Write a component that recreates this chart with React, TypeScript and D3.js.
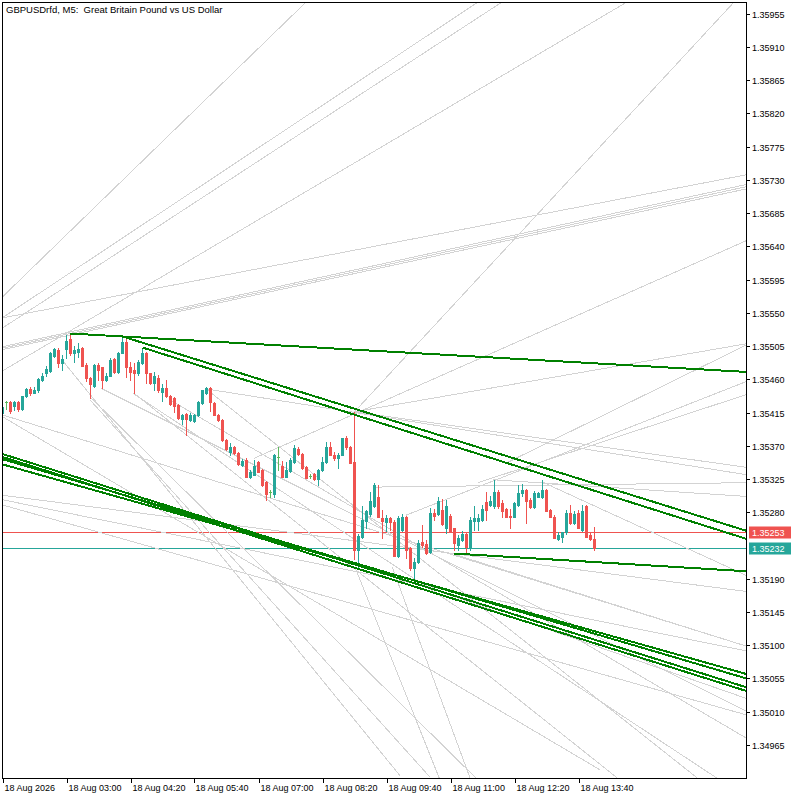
import React from "react";
import * as d3 from "d3";

const W = 800;
const H = 800;
const PL = 2, PR = 746, PT = 2, PB = 778;

const title = "GBPUSDrfd, M5:  Great Britain Pound vs US Dollar";

const open = [
1.35415,1.35429,1.35429,1.35424,1.35429,1.35420,1.35437,1.35447,1.35442,1.35445,
1.35459,1.35468,1.35471,1.35492,1.35500,1.35482,1.35501,1.35514,1.35495,1.35497,
1.35503,1.35480,1.35462,1.35451,1.35480,1.35476,1.35459,1.35465,1.35488,1.35470,
1.35496,1.35511,1.35476,1.35473,1.35468,1.35482,1.35496,1.35468,1.35455,1.35462,
1.35443,1.35448,1.35437,1.35435,1.35425,1.35406,1.35413,1.35405,1.35403,1.35411,
1.35428,1.35442,1.35448,1.35428,1.35412,1.35405,1.35378,1.35362,1.35368,1.35360,
1.35344,1.35351,1.35328,1.35331,1.35348,1.35337,1.35321,1.35307,1.35304,1.35355,
1.35343,1.35328,1.35336,1.35348,1.35366,1.35359,1.35341,1.35329,1.35332,1.35325,
1.35337,1.35348,1.35368,1.35358,1.35353,1.35358,1.35380,1.35368,1.35348,1.35229,
1.35247,1.35268,1.35277,1.35288,1.35301,1.35272,1.35267,1.35272,1.35267,1.35220,
1.35256,1.35273,1.35232,1.35204,1.35212,1.35240,1.35237,1.35226,1.35279,1.35277,
1.35283,1.35258,1.35275,1.35258,1.35236,1.35243,1.35251,1.35231,1.35268,1.35268,
1.35270,1.35294,1.35290,1.35288,1.35308,1.35292,1.35284,1.35275,1.35274,1.35290,
1.35306,1.35310,1.35297,1.35287,1.35301,1.35301,1.35310,1.35283,1.35274,1.35244,
1.35247,1.35253,1.35279,1.35266,1.35279,1.35256,1.35288,1.35249,1.35244
];
const high = [
1.35425,1.35431,1.35430,1.35430,1.35430,1.35438,1.35448,1.35450,1.35450,1.35462,
1.35469,1.35478,1.35497,1.35503,1.35503,1.35493,1.35520,1.35522,1.35505,1.35509,
1.35504,1.35482,1.35463,1.35481,1.35482,1.35477,1.35469,1.35489,1.35489,1.35497,
1.35518,1.35518,1.35484,1.35482,1.35486,1.35503,1.35497,1.35469,1.35470,1.35466,
1.35453,1.35459,1.35439,1.35436,1.35427,1.35413,1.35415,1.35415,1.35413,1.35431,
1.35446,1.35449,1.35449,1.35429,1.35413,1.35406,1.35379,1.35374,1.35370,1.35361,
1.35352,1.35353,1.35337,1.35351,1.35350,1.35338,1.35322,1.35310,1.35359,1.35368,
1.35349,1.35348,1.35354,1.35371,1.35368,1.35360,1.35342,1.35332,1.35333,1.35338,
1.35355,1.35375,1.35375,1.35361,1.35360,1.35381,1.35383,1.35369,1.35416,1.35250,
1.35288,1.35283,1.35308,1.35320,1.35317,1.35283,1.35276,1.35274,1.35270,1.35275,
1.35277,1.35275,1.35233,1.35218,1.35243,1.35262,1.35243,1.35286,1.35285,1.35300,
1.35298,1.35297,1.35277,1.35259,1.35249,1.35254,1.35252,1.35273,1.35288,1.35277,
1.35290,1.35308,1.35302,1.35324,1.35310,1.35297,1.35286,1.35284,1.35294,1.35317,
1.35318,1.35312,1.35299,1.35309,1.35308,1.35324,1.35312,1.35285,1.35276,1.35253,
1.35253,1.35283,1.35290,1.35281,1.35283,1.35290,1.35290,1.35253,1.35260
];
const low = [
1.35413,1.35420,1.35415,1.35419,1.35417,1.35419,1.35436,1.35439,1.35441,1.35443,
1.35458,1.35465,1.35470,1.35490,1.35477,1.35473,1.35489,1.35493,1.35484,1.35490,
1.35478,1.35458,1.35434,1.35450,1.35459,1.35448,1.35458,1.35464,1.35469,1.35469,
1.35495,1.35463,1.35459,1.35442,1.35466,1.35481,1.35455,1.35454,1.35445,1.35443,
1.35430,1.35436,1.35425,1.35416,1.35406,1.35400,1.35385,1.35403,1.35402,1.35410,
1.35427,1.35440,1.35417,1.35411,1.35404,1.35377,1.35364,1.35358,1.35359,1.35344,
1.35343,1.35327,1.35326,1.35330,1.35334,1.35316,1.35297,1.35300,1.35300,1.35337,
1.35327,1.35327,1.35335,1.35346,1.35357,1.35339,1.35326,1.35326,1.35324,1.35317,
1.35336,1.35347,1.35357,1.35351,1.35340,1.35357,1.35365,1.35346,1.35216,1.35205,
1.35245,1.35258,1.35275,1.35287,1.35273,1.35245,1.35255,1.35256,1.35220,1.35219,
1.35255,1.35218,1.35202,1.35186,1.35211,1.35233,1.35224,1.35225,1.35270,1.35276,
1.35263,1.35252,1.35254,1.35229,1.35229,1.35241,1.35226,1.35229,1.35256,1.35256,
1.35268,1.35270,1.35288,1.35286,1.35286,1.35274,1.35273,1.35258,1.35273,1.35289,
1.35302,1.35265,1.35286,1.35286,1.35300,1.35299,1.35281,1.35273,1.35245,1.35242,
1.35239,1.35251,1.35264,1.35264,1.35258,1.35254,1.35246,1.35243,1.35229
];
const close = [
1.35423,1.35429,1.35417,1.35429,1.35420,1.35437,1.35447,1.35442,1.35446,1.35461,
1.35465,1.35474,1.35496,1.35501,1.35482,1.35488,1.35512,1.35496,1.35499,1.35501,
1.35478,1.35462,1.35453,1.35480,1.35473,1.35459,1.35465,1.35486,1.35470,1.35495,
1.35511,1.35477,1.35470,1.35468,1.35484,1.35495,1.35469,1.35455,1.35465,1.35445,
1.35448,1.35437,1.35427,1.35424,1.35408,1.35412,1.35406,1.35412,1.35411,1.35429,
1.35445,1.35448,1.35429,1.35412,1.35405,1.35378,1.35365,1.35368,1.35360,1.35345,
1.35350,1.35328,1.35335,1.35342,1.35335,1.35317,1.35304,1.35307,1.35358,1.35355,
1.35328,1.35337,1.35351,1.35367,1.35359,1.35340,1.35326,1.35329,1.35325,1.35337,
1.35348,1.35368,1.35358,1.35353,1.35358,1.35380,1.35368,1.35347,1.35229,1.35248,
1.35269,1.35281,1.35295,1.35317,1.35274,1.35268,1.35272,1.35267,1.35220,1.35272,
1.35273,1.35229,1.35205,1.35212,1.35238,1.35236,1.35225,1.35279,1.35275,1.35295,
1.35264,1.35288,1.35254,1.35238,1.35245,1.35251,1.35233,1.35269,1.35272,1.35272,
1.35284,1.35283,1.35295,1.35308,1.35288,1.35281,1.35274,1.35274,1.35292,1.35306,
1.35310,1.35295,1.35287,1.35306,1.35306,1.35310,1.35281,1.35274,1.35245,1.35249,
1.35253,1.35279,1.35266,1.35277,1.35259,1.35281,1.35247,1.35244,1.35232
];

const priceTicks = [
1.35955,1.35910,1.35865,1.35820,1.35775,1.35730,1.35685,1.35640,1.35595,1.35550,
1.35505,1.35460,1.35415,1.35370,1.35325,1.35280,1.35190,1.35145,1.35100,1.35055,
1.35010,1.34965
];

const timeTickBars = [0, 16, 32, 48, 64, 80, 96, 112, 128, 144];
const timeTickLabels = [
"18 Aug 2026","18 Aug 03:00","18 Aug 04:20","18 Aug 05:40","18 Aug 07:00",
"18 Aug 08:20","18 Aug 09:40","18 Aug 11:00","18 Aug 12:20","18 Aug 13:40"
];

const askPrice = 1.35253;
const bidPrice = 1.35232;

// trend lines: [bar1, price1, bar2, price2]
const greenLines: number[][] = [
[17, 1.35522, 185.875, 1.35470],
[30, 1.35518, 185.875, 1.35255],
[35, 1.35503, 185.875, 1.35244],
[113, 1.35224, 185.875, 1.35200],
[-0.125, 1.35359, 185.875, 1.35043],
[-0.125, 1.35355, 185.875, 1.35038],
[-0.125, 1.35352, 185.875, 1.35055],
[-0.125, 1.35345, 185.875, 1.35061],
];

const greyLines: number[][] = [
[-0.125,1.35571,75.9,1.35971],
[-0.125,1.35543,118.9,1.35971],
[-0.125,1.35529,124.9,1.35971],
[-0.125,1.35504,186.9,1.35725],
[-0.125,1.35502,186.9,1.35722],
[-0.125,1.35500,186.9,1.35719],
[-0.125,1.35471,156.1,1.35971],
[-0.125,1.35543,186.9,1.35738],
[88,1.35416,182.9,1.35971],
[62.9,1.35353,186.9,1.35650],
[88,1.35416,186.9,1.35509],
[100.9,1.35276,186.9,1.35459],
[50.9,1.35447,186.9,1.35330],
[93.1,1.35314,186.9,1.35320],
[88,1.35416,186.9,1.35340],
[122.6,1.35324,186.9,1.35301],
[118.9,1.35320,186.9,1.35441],
[126.1,1.35347,186.9,1.35509],
[-0.125,1.35412,186.9,1.35097],
[-0.125,1.35303,186.9,1.35172],
[-0.125,1.35297,186.9,1.35091],
[-0.125,1.35290,186.9,1.35004],
[22.1,1.35435,118.9,1.34917],
[14.9,1.35486,99.4,1.34923],
[32.9,1.35441,154.4,1.34917],
[97.4,1.35206,117.1,1.34917],
[88.1,1.35206,109.4,1.34917],
[112.9,1.35223,186.9,1.35097],
[102.6,1.35185,186.9,1.35026],
[50.9,1.35447,174.4,1.34917],
[41.9,1.35432,186.9,1.34971],
[21.9,1.35432,106.9,1.34921],
[24.6,1.35448,186.9,1.35008],
[32.6,1.35441,179.4,1.34917],
[0.1,1.35409,149.4,1.34931],
[134.9,1.35321,186.9,1.35192],
];

const BULL = "#26a69a";
const BEAR = "#ef5350";
const DOJI = "#5cb85c";
const GREY = "#d3d3d3";
const GREEN = "#008000";
const FONT = "'Liberation Sans', Arial, sans-serif";

export default function App() {
  const x = d3.scaleLinear().domain([-0.125, 185.875]).range([PL, PR]);
  const y = d3.scaleLinear().domain([1.3492, 1.35971]).range([PB, PT]);
  const fmt = d3.format(".5f");

  const candles = open.map((o, i) => {
    const c = close[i];
    const cx = x(i);
    const col = c > o ? BULL : c < o ? BEAR : DOJI;
    const yTop = Math.round(y(Math.max(o, c)));
    const yBot = Math.round(y(Math.min(o, c)));
    const yH = Math.round(y(high[i]));
    const yL = Math.round(y(low[i]));
    return (
      <g key={i}>
        <rect x={cx - 0.5} y={yH} width={1} height={Math.max(1, yL - yH + 1)} fill={col} />
        <rect x={cx - 1.5} y={yTop} width={3} height={Math.max(1, yBot - yTop + 1)} fill={col} />
      </g>
    );
  });

  const line = (l: number[], k: number, color: string, w: number) => (
    <line key={k} x1={x(l[0])} y1={y(l[1])} x2={x(l[2])} y2={y(l[3])}
      stroke={color} strokeWidth={w} shapeRendering="crispEdges" />
  );

  const yAsk = Math.round(y(askPrice)) + 0.5;
  const yBid = Math.round(y(bidPrice)) + 0.5;

  return (
    <div style={{ position: "absolute", left: 0, top: 0 }}>
      <svg width={W} height={H} style={{ display: "block", background: "#fff" }}>
        <defs>
          <clipPath id="plot">
            <rect x={PL} y={PT} width={PR - PL} height={PB - PT} />
          </clipPath>
        </defs>
        <rect x={0} y={0} width={W} height={H} fill="#fff" />
        <g clipPath="url(#plot)">
          <line x1={PL} x2={PR} y1={yAsk} y2={yAsk} stroke={BEAR} strokeWidth={1} />
          <line x1={PL} x2={PR} y1={yBid} y2={yBid} stroke={BULL} strokeWidth={1} />
          {greyLines.map((l, k) => line(l, k, GREY, 1))}
          <g shapeRendering="crispEdges">{candles}</g>
          {greenLines.map((l, k) => line(l, 100 + k, GREEN, 2))}
        </g>
        <rect x={PL + 0.5} y={PT + 0.5} width={PR - PL} height={PB - PT} fill="none" stroke="#000" strokeWidth={1} shapeRendering="crispEdges" />
        <text x={6} y={13} fontFamily={FONT} fontSize={9.5} fill="#000" style={{ whiteSpace: "pre" }}>{title}</text>
        <g fontFamily={FONT} fontSize={9} fill="#000">
          {priceTicks.map((p, k) => {
            const yy = Math.round(y(p)) + 0.5;
            return (
              <g key={k}>
                <line x1={PR} x2={PR + 4} y1={yy} y2={yy} stroke="#000" shapeRendering="crispEdges" />
                <text x={PR + 6} y={yy + 3.5}>{fmt(p)}</text>
              </g>
            );
          })}
        </g>
        <g fontFamily={FONT} fontSize={9}>
          <rect x={PR + 3} y={yAsk - 6} width={42} height={12} fill={BEAR} />
          <text x={PR + 6} y={yAsk + 3.5} fill="#fff">{fmt(askPrice)}</text>
          <rect x={PR + 3} y={yBid - 6} width={42} height={12} fill={BULL} />
          <text x={PR + 6} y={yBid + 3.5} fill="#fff">{fmt(bidPrice)}</text>
        </g>
        <g fontFamily={FONT} fontSize={9} fill="#000">
          {timeTickBars.map((b, k) => {
            const xx = Math.round(x(b)) + 0.5;
            return (
              <g key={k}>
                <line x1={xx} x2={xx} y1={PB} y2={PB + 5} stroke="#000" shapeRendering="crispEdges" />
                <text x={xx + 1} y={791}>{timeTickLabels[k]}</text>
              </g>
            );
          })}
        </g>
      </svg>
    </div>
  );
}
